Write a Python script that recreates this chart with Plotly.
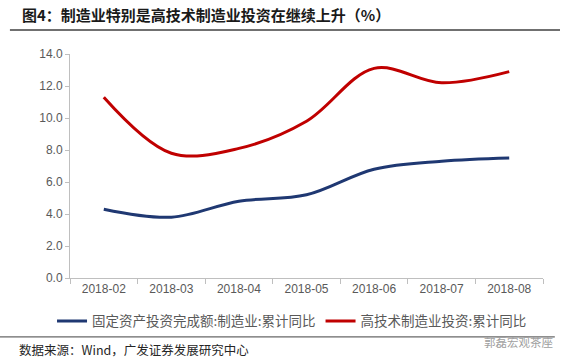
import plotly.graph_objects as go

months = ["2018-02", "2018-03", "2018-04", "2018-05", "2018-06", "2018-07", "2018-08"]
manufacturing = [4.3, 3.8, 4.8, 5.2, 6.8, 7.3, 7.5]
hightech = [11.3, 7.8, 8.1, 9.8, 13.1, 12.2, 12.9]
name_mfg = "固定资产投资完成额:制造业:累计同比"
name_ht = "高技术制造业投资:累计同比"
title_text = "图4：制造业特别是高技术制造业投资在继续上升（%）"
source_text = "数据来源：Wind，广发证券发展研究中心"
watermark = "郭磊宏观茶座"

cjk = "Noto Sans CJK SC"
fig = go.Figure()
fig.add_trace(go.Scatter(x=months, y=manufacturing, name=name_mfg, mode="lines",
                         line=dict(color="#1F3872", width=3, shape="spline", smoothing=1.0)))
fig.add_trace(go.Scatter(x=months, y=hightech, name=name_ht, mode="lines",
                         line=dict(color="#C00000", width=3, shape="spline", smoothing=1.0)))

fig.update_layout(
    width=569, height=364,
    margin=dict(l=70, r=26, t=54, b=86),
    paper_bgcolor="white", plot_bgcolor="white",
    showlegend=True,
    legend=dict(orientation="h", x=-0.038, y=-0.193, xanchor="left", yanchor="middle",
                font=dict(family=cjk, size=13.5, color="#595959"),
                itemwidth=30, tracegroupgap=0, bgcolor="rgba(0,0,0,0)"),
    font=dict(family="Liberation Sans, Arial", size=12, color="#595959"),
)
fig.update_xaxes(type="category", range=[-0.5, 6.5], showgrid=False, showline=True,
                 linecolor="#BFBFBF", linewidth=1, ticks="outside", tickson="boundaries",
                 ticklen=5, tickcolor="#BFBFBF", tickfont=dict(size=12, color="#595959"),
                 zeroline=False)
fig.update_yaxes(range=[0, 14], dtick=2, tickformat=".1f", showgrid=False, showline=True,
                 linecolor="#BFBFBF", linewidth=1, ticks="outside", ticklen=4,
                 tickcolor="#BFBFBF", tickfont=dict(size=12, color="#595959"),
                 zeroline=False)

fig.add_shape(type="line", xref="paper", yref="paper", x0=-0.127, x1=1.036, y0=1.107, y1=1.107,
              line=dict(color="#404040", width=1.5))
fig.add_shape(type="line", xref="paper", yref="paper", x0=-0.148, x1=1.025, y0=-0.263, y1=-0.263,
              line=dict(color="#404040", width=1))
fig.add_annotation(text="<b>" + title_text + "</b>", xref="paper", yref="paper",
                   x=-0.105, y=1.175, xanchor="left", yanchor="middle", showarrow=False,
                   font=dict(family=cjk, size=15, color="#1a1a1a"))
fig.add_annotation(text=source_text, xref="paper", yref="paper",
                   x=-0.112, y=-0.32, xanchor="left", yanchor="middle", showarrow=False,
                   font=dict(family=cjk, size=12.5, color="#262626"))
fig.add_annotation(text=watermark, xref="paper", yref="paper",
                   x=1.025, y=-0.285, xanchor="right", yanchor="middle", showarrow=False,
                   font=dict(family=cjk, size=11.5, color="#A0A0A0"))

fig.write_html("out.html", config={"displayModeBar": False},
               post_script="document.body.style.margin='0';")
